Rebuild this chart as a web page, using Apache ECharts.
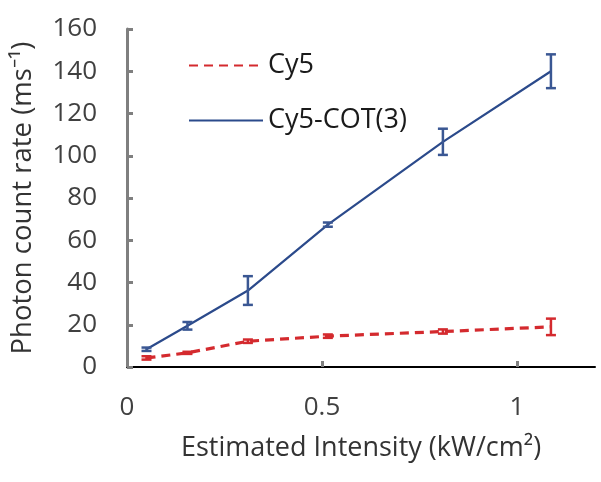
<!DOCTYPE html>
<html>
    <head>
        <meta charset="utf-8"/>
        <script src="https://cdn.jsdelivr.net/npm/echarts@6.0.0/dist/echarts.min.js"></script>
    </head>
	<body style="margin:0">
        <div id="main" style="width: 601px;height: 482px;"></div>
		<script>
			// intensity (kW/cm2)
			var intensity = [0.05, 0.155, 0.31, 0.515, 0.81, 1.087];
			// photon count rate (ms^-1)
			var cy5 = [4.3, 6.7, 12.2, 14.6, 16.8, 19.0];
			var cy5Err = [0.8, 0.5, 0.8, 0.8, 1.0, 3.9];
			var cot = [8.4, 19.5, 36.2, 67.4, 106.6, 140.0];
			var cotErr = [0.8, 1.8, 6.8, 1.0, 6.2, 8.0];
			var xTicks = [0, 0.5, 1];

			var red = '#D42A2E';
			var blue = '#2B4A8B';
			var font = 'Open Sans';

			function pairs(ys) {
			  return intensity.map(function (x, i) { return [x, ys[i]]; });
			}
			function errs(ys, es) {
			  return intensity.map(function (x, i) { return [x, ys[i] - es[i], ys[i] + es[i]]; });
			}
			function errorBar(color) {
			  return function (params, api) {
			    var lo = api.coord([api.value(0), api.value(1)]);
			    var hi = api.coord([api.value(0), api.value(2)]);
			    var w = 5;
			    var st = { stroke: color, lineWidth: 2.5 };
			    return {
			      type: 'group',
			      children: [
			        { type: 'line', shape: { x1: lo[0], y1: lo[1], x2: hi[0], y2: hi[1] }, style: st },
			        { type: 'line', shape: { x1: lo[0] - w, y1: lo[1], x2: lo[0] + w, y2: lo[1] }, style: st },
			        { type: 'line', shape: { x1: hi[0] - w, y1: hi[1], x2: hi[0] + w, y2: hi[1] }, style: st }
			      ]
			    };
			  };
			}

			var myChart = echarts.init(document.getElementById('main'));
			myChart.setOption({
			  animation: false,
			  grid: { left: 127, right: 6, top: 29, bottom: 115 },
			  legend: {
			    data: ['Cy5', 'Cy5-COT(3)'],
			    orient: 'vertical',
			    left: 183,
			    top: 47,
			    itemWidth: 74,
			    itemHeight: 30,
			    itemGap: 28,
			    itemStyle: { opacity: 0 },
			    textStyle: { fontFamily: font, fontSize: 27, color: '#1a1a1a' }
			  },
			  xAxis: {
			    type: 'value',
			    min: 0,
			    max: 1.2,
			    interval: 0.5,
			    name: 'Estimated Intensity (kW/cm²)',
			    nameLocation: 'middle',
			    nameGap: 68,
			    nameTextStyle: { fontFamily: font, fontSize: 27, color: '#333' },
			    axisLine: { lineStyle: { color: '#000', width: 2 } },
			    axisTick: { inside: true, length: 6, customValues: xTicks, lineStyle: { color: '#808080', width: 3 } },
			    axisLabel: { customValues: xTicks, margin: 28, fontFamily: font, fontSize: 26, color: '#404040' },
			    splitLine: { show: false }
			  },
			  yAxis: {
			    type: 'value',
			    min: 0,
			    max: 160,
			    interval: 20,
			    name: 'Photon count rate (ms⁻¹)',
			    nameLocation: 'middle',
			    nameGap: 90,
			    nameTextStyle: { fontFamily: font, fontSize: 27.5, color: '#333' },
			    axisLine: { show: true, lineStyle: { color: '#7f7f7f', width: 3 } },
			    axisTick: { show: true, inside: true, length: 6, lineStyle: { color: '#7f7f7f', width: 3 } },
			    axisLabel: { margin: 30, fontFamily: font, fontSize: 26, color: '#404040' },
			    splitLine: { show: false }
			  },
			  series: [
			    {
			      name: 'Cy5',
			      type: 'line',
			      data: pairs(cy5),
			      symbol: 'none',
			      lineStyle: { color: red, width: 3.2, type: [9, 6] },
			      itemStyle: { color: red },
			      z: 3
			    },
			    {
			      name: 'Cy5-COT(3)',
			      type: 'line',
			      data: pairs(cot),
			      symbol: 'none',
			      lineStyle: { color: blue, width: 2.2 },
			      itemStyle: { color: blue },
			      z: 3
			    },
			    {
			      name: 'Cy5 err',
			      type: 'custom',
			      data: errs(cy5, cy5Err),
			      renderItem: errorBar(red),
			      encode: { x: 0, y: [1, 2] },
			      z: 4
			    },
			    {
			      name: 'COT err',
			      type: 'custom',
			      data: errs(cot, cotErr),
			      renderItem: errorBar('#3A5793'),
			      encode: { x: 0, y: [1, 2] },
			      z: 4
			    }
			  ]
			});
		</script>
  </body>
</html>
